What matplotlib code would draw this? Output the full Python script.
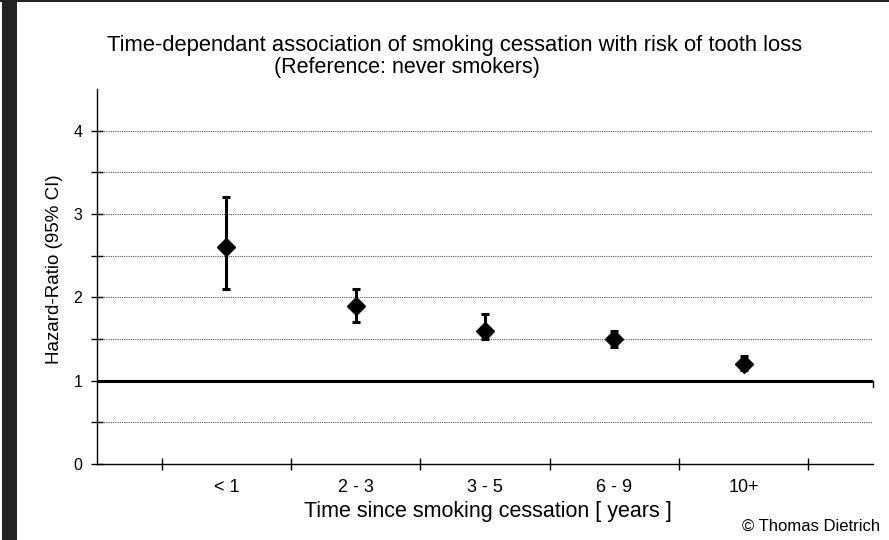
import matplotlib
matplotlib.use("Agg")
import matplotlib.pyplot as plt
from matplotlib.patches import Rectangle

plt.rcParams['font.family'] = ['Liberation Sans', 'DejaVu Sans']

categories = ["< 1", "2 - 3", "3 - 5", "6 - 9", "10+"]
hr = [2.6, 1.9, 1.6, 1.5, 1.2]
ci_low = [2.1, 1.7, 1.5, 1.4, 1.13]
ci_high = [3.2, 2.1, 1.8, 1.6, 1.3]
y_ticks = [0, 1, 2, 3, 4]

W, H = 889, 540
fig = plt.figure(figsize=(W / 100, H / 100), dpi=100)
fig.patch.set_facecolor("white")

# dark frame bits
fig.add_artist(Rectangle((2 / W, 0), 15 / W, 1, transform=fig.transFigure,
                         facecolor="#222222", edgecolor="none"))
fig.add_artist(Rectangle((0, 1 - 2 / H), 1, 2 / H, transform=fig.transFigure,
                         facecolor="#222222", edgecolor="none"))

left, right = 97 / W, 873 / W
bottom, top = 1 - 464 / H, 1 - 89 / H
ax = fig.add_axes([left, bottom, right - left, top - bottom])

x = list(range(1, len(categories) + 1))
yerr = [[h - l for h, l in zip(hr, ci_low)], [u - h for h, u in zip(hr, ci_high)]]

# gridlines at 0.5 steps
grid_vals = [v / 2 for v in range(1, 9)]
for g in grid_vals:
    if g == 1:
        continue
    ax.axhline(g, color="#555555", lw=0.8, ls=(0, (1, 1)), zorder=1)
ax.axhline(1, color="black", lw=2.2, zorder=2)
ax.plot([6, 6], [1, 0.92], color="black", lw=1, zorder=2, clip_on=False)

ax.errorbar(x, hr, yerr=yerr, fmt="D", color="black", ms=9, elinewidth=2.2,
            capsize=2.6, capthick=2.2, zorder=3)

ax.set_xlim(0, 6)
ax.set_ylim(0, 4.5)
ax.set_xticks([i + 0.5 for i in range(0, 6)])
ax.set_xticklabels([])
ax.set_xticks(x, minor=True)
ax.set_xticklabels(categories, minor=True, fontsize=13)
ax.tick_params(axis="x", which="major", direction="inout", length=9, width=1)
ax.tick_params(axis="x", which="minor", length=0, pad=11)

ax.set_yticks(grid_vals + [0], minor=True)
ax.set_yticks(y_ticks)
ax.set_yticklabels([str(v) for v in y_ticks], fontsize=11.5)
ax.tick_params(axis="y", which="both", direction="inout", length=9, width=1)
ax.tick_params(axis="y", which="major", pad=6)

for s in ["top", "right"]:
    ax.spines[s].set_visible(False)
ax.spines["left"].set_linewidth(1)
ax.spines["bottom"].set_linewidth(1)

ax.set_ylabel("Hazard-Ratio (95% CI)", fontsize=13.5, va="center")
ax.yaxis.set_label_coords((55 - 97) / 776, 0.52)
ax.set_xlabel("Time since smoking cessation [ years ]", fontsize=15.5, va="center")
ax.xaxis.set_label_coords((488 - 97) / 776, -(511 - 464) / 375)

fig.text(455 / W, 1 - 45 / H,
         "Time-dependant association of smoking cessation with risk of tooth loss",
         ha="center", va="center", fontsize=15.8)
fig.text(407 / W, 1 - 67 / H, "(Reference: never smokers)",
         ha="center", va="center", fontsize=15.5)
fig.text(880 / W, 1 - 526 / H, "© Thomas Dietrich", ha="right", va="center", fontsize=12)

fig.savefig("out.png", dpi=100, facecolor="white")
